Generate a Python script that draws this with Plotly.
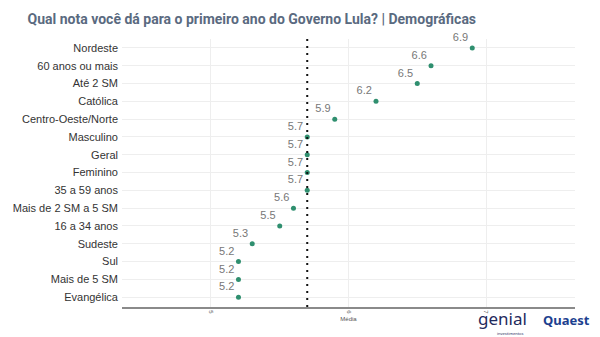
import plotly.graph_objects as go

categories = ["Nordeste", "60 anos ou mais", "Até 2 SM", "Católica", "Centro-Oeste/Norte",
              "Masculino", "Geral", "Feminino", "35 a 59 anos", "Mais de 2 SM a 5 SM",
              "16 a 34 anos", "Sudeste", "Sul", "Mais de 5 SM", "Evangélica"]
values = [6.9, 6.6, 6.5, 6.2, 5.9, 5.7, 5.7, 5.7, 5.7, 5.6, 5.5, 5.3, 5.2, 5.2, 5.2]
reference_value = 5.7
x_ticks = [5, 6, 7]

fig = go.Figure()
fig.add_trace(go.Scatter(
    x=values, y=categories, mode="markers+text",
    marker=dict(color="#2f8f6f", size=5),
    text=[f"{v:.1f}" for v in values],
    textposition="top left",
    textfont=dict(family="Liberation Sans, Arial", size=11, color="#777777"),
    cliponaxis=False, showlegend=False,
))

fig.add_shape(type="line", xref="x", yref="paper", x0=reference_value, x1=reference_value,
              y0=0, y1=1, line=dict(color="#111111", width=2, dash="2px,5px"))

fig.update_layout(
    width=600, height=337,
    margin=dict(l=122, r=25, t=39, b=30),
    paper_bgcolor="white", plot_bgcolor="white",
    title=dict(text="<b>Qual nota você dá para o primeiro ano do Governo Lula? | Demográficas</b>",
               x=0.046, xanchor="left", y=1 - 19 / 337, yanchor="middle",
               font=dict(family="Roboto", size=14, color="#5a6a80")),
    xaxis=dict(range=[4.353, 7.647], tickvals=x_ticks, ticktext=[str(t) for t in x_ticks],
               tickangle=90, tickfont=dict(family="Liberation Sans", size=6, color="#555"),
               showgrid=True, gridcolor="#eeeeee", zeroline=False,
               showline=True, linecolor="#8a8a8a", linewidth=2,
               title=dict(text="Média", font=dict(family="Liberation Sans", size=6, color="#555"),
                          standoff=4)),
    yaxis=dict(range=[14.55, -0.5], tickfont=dict(family="Liberation Sans, Arial", size=11, color="#333333"),
               showgrid=True, gridcolor="#eeeeee", zeroline=False, ticks="", ticklabelstandoff=3),
)

fig.add_annotation(text="genial", xref="paper", yref="paper", x=0.839, y=-0.043,
                   xanchor="center", yanchor="middle",
                   showarrow=False, font=dict(family="Noto Sans", size=17, color="#1f2a5c"))
fig.add_annotation(text="investimentos", xref="paper", yref="paper", x=0.857, y=-0.098,
                   xanchor="center", yanchor="middle",
                   showarrow=False, font=dict(family="Noto Sans", size=4, color="#1f2a5c"))
fig.add_annotation(text="<b>Quaest</b>", xref="paper", yref="paper", x=0.982, y=-0.049,
                   xanchor="center", yanchor="middle",
                   showarrow=False, font=dict(family="Noto Sans", size=13, color="#1d3f8f"))

fig.write_html("out.html")
